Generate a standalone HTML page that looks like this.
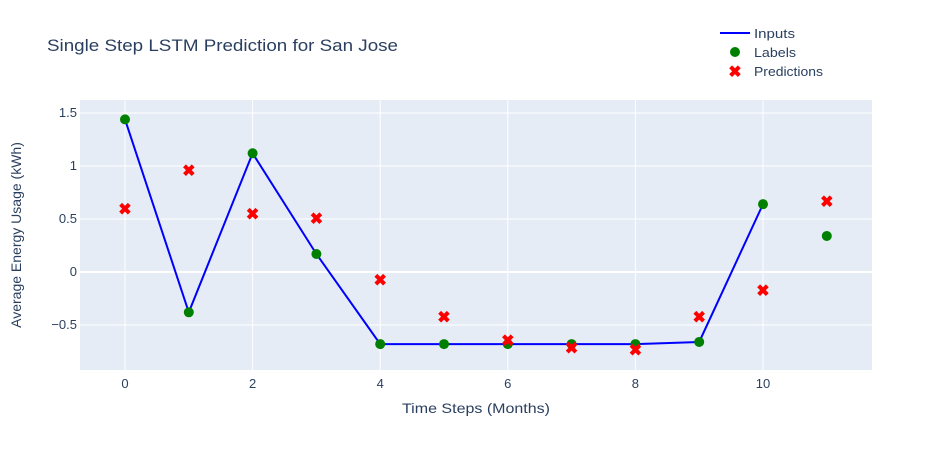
<!DOCTYPE html>
<html><head><meta charset="utf-8"><style>
body{margin:0;background:#fff;font-family:"Liberation Sans",sans-serif}
svg text{font-family:"Liberation Sans",sans-serif}
</style></head><body>
<svg id="chart" width="952" height="450">
<rect width="952" height="450" fill="#fff"/>
<text x="47" y="51" font-size="17" fill="#2a3f5f" textLength="351" lengthAdjust="spacingAndGlyphs">Single Step LSTM Prediction for San Jose</text>
<rect x="80" y="100" width="792" height="270" fill="#e5ecf6"/>
<g id="grid"></g><g id="marks"></g><g id="ticks"></g>
<text x="402" y="413" font-size="14" fill="#2a3f5f" textLength="148" lengthAdjust="spacingAndGlyphs">Time Steps (Months)</text>
<text transform="translate(21,235) rotate(-90)" font-size="14" fill="#2a3f5f" text-anchor="middle">Average Energy Usage (kWh)</text>
<g>
<g><line x1="720" y1="33" x2="750" y2="33" stroke="#0000ff" stroke-width="2"/><text x="754" y="38" font-size="13" fill="#2a3f5f" textLength="41" lengthAdjust="spacingAndGlyphs">Inputs</text></g>
<g><circle cx="735" cy="52" r="5" fill="#008000"/><text x="754" y="57" font-size="13" fill="#2a3f5f" textLength="42" lengthAdjust="spacingAndGlyphs">Labels</text></g>
<g><text x="735" y="77" font-size="16" font-weight="bold" fill="#ff0000" text-anchor="middle">✖</text><text x="754" y="76" font-size="13" fill="#2a3f5f" textLength="69" lengthAdjust="spacingAndGlyphs">Predictions</text></g>
</g>
</svg>
<script>
const xTicks=[0,2,4,6,8,10];
const yTicks=[1.5,1,0.5,0,-0.5];
const yTickLabels=["1.5","1","0.5","0","−0.5"];
const inputX=[0,1,2,3,4,5,6,7,8,9,10];
const inputValues=[1.44,-0.38,1.12,0.17,-0.68,-0.68,-0.68,-0.68,-0.68,-0.66,0.64];
const labelX=[0,1,2,3,4,5,6,7,8,9,10,11];
const labelValues=[1.44,-0.38,1.12,0.17,-0.68,-0.68,-0.68,-0.68,-0.68,-0.66,0.64,0.34];
const predX=[0,1,2,3,4,5,6,7,8,9,10,11];
const predValues=[0.60,0.96,0.55,0.51,-0.07,-0.42,-0.64,-0.71,-0.73,-0.42,-0.17,0.67];
const NS="http://www.w3.org/2000/svg";
const X=v=>125+v*63.8, Y=v=>272-v*106;
function mk(t,a,p){const e=document.createElementNS(NS,t);for(const k in a)e.setAttribute(k,a[k]);p.appendChild(e);return e;}
const grid=document.getElementById('grid'),marks=document.getElementById('marks'),ticks=document.getElementById('ticks');
xTicks.forEach(v=>{const l=mk('line',{x1:X(v),x2:X(v),y1:100,y2:370,stroke:'#fff','stroke-width':1},grid);


const t=mk('text',{x:X(v),y:388,'font-size':13,fill:'#2a3f5f','text-anchor':'middle'},ticks);t.textContent=v;

});
yTicks.forEach((v,i)=>{const l=mk('line',{x1:80,x2:872,y1:Y(v),y2:Y(v),stroke:'#fff','stroke-width':v===0?2:1},grid);


const t=mk('text',{x:77,y:Y(v)+4,'font-size':13,fill:'#2a3f5f','text-anchor':'end'},ticks);t.textContent=yTickLabels[i];

});
const pl=mk('polyline',{points:inputX.map((x,i)=>X(x)+','+Y(inputValues[i])).join(' '),fill:'none',stroke:'#0000ff','stroke-width':2},marks);


labelX.forEach((x,i)=>{const c=mk('circle',{cx:X(x),cy:Y(labelValues[i]),r:5,fill:'#008000'},marks);

});
predX.forEach((x,i)=>{const t=mk('text',{x:X(x),y:Y(predValues[i])+6,'font-size':16,'font-weight':'bold',fill:'#ff0000','text-anchor':'middle'},marks);t.textContent='✖';

});
</script>
</body></html>
